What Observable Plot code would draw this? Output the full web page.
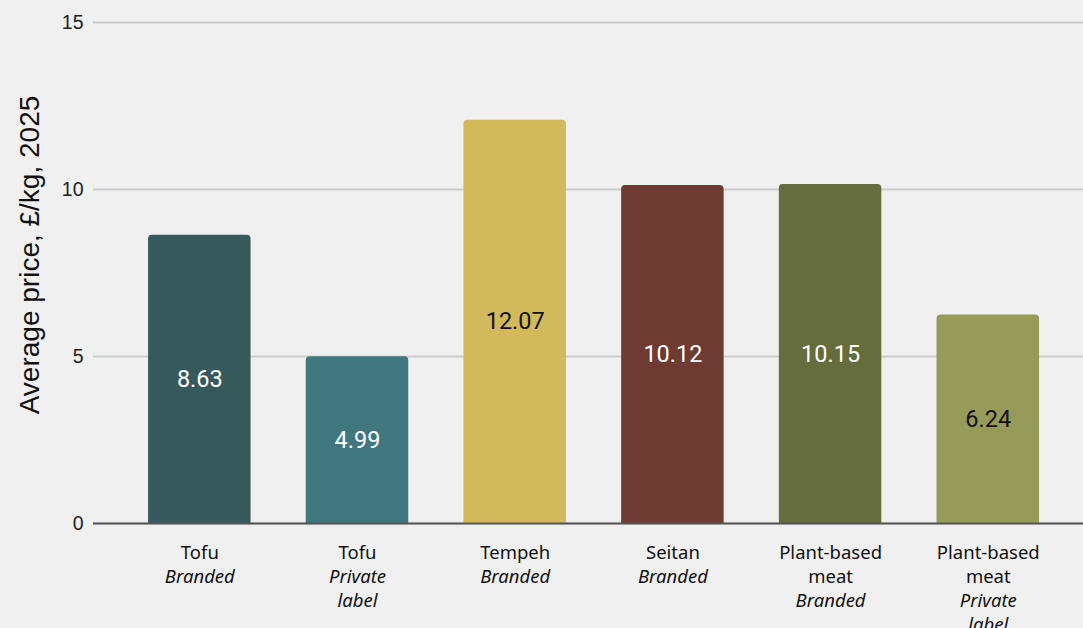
<!DOCTYPE html>
<html><head><meta charset="utf-8">
<script src="https://cdn.jsdelivr.net/npm/d3@7"></script>
<script src="https://cdn.jsdelivr.net/npm/@observablehq/plot@0.6"></script>
<style>body{margin:0;background:#f0f0f0;} svg{display:block}</style>
</head><body><div id="chart"></div>
<script>
const categories = ["Tofu", "Tofu", "Tempeh", "Seitan", "Plant-based\nmeat", "Plant-based\nmeat"];
const types = ["Branded", "Private\nlabel", "Branded", "Branded", "Branded", "Private\nlabel"];
const prices = [8.63, 4.99, 12.07, 10.12, 10.15, 6.24];
const yTicks = [0, 5, 10, 15];
const barColors = ["#36595c", "#41777f", "#d2b95a", "#6e3b33", "#666d3d", "#979b5a"];
const labelColors = ["#ffffff", "#ffffff", "#111111", "#ffffff", "#ffffff", "#111111"];
const yLabel = "Average price, £/kg, 2025";

const data = prices.map((v, i) => ({
  key: String(i),
  cat: categories[i],
  italic: "\n".repeat(categories[i].split("\n").length) + types[i],
  value: v,
  bar: barColors[i],
  lab: labelColors[i]
}));
const keys = data.map(d => d.key);
const labelFont = "'Noto Sans', 'Open Sans', sans-serif";

const chart = Plot.plot({
  width: 1083,
  height: 628,
  marginTop: 22,
  marginBottom: 105,
  marginLeft: 93,
  marginRight: 0,
  style: {background: "#f0f0f0", fontFamily: "'Liberation Sans', Arial, sans-serif", color: "#222"},
  x: {domain: keys, paddingInner: 0.35, paddingOuter: 0.314, align: 0.556, round: false, axis: null},
  y: {domain: [0, 15], axis: null},
  color: {type: "identity"},
  marks: [
    Plot.gridY(yTicks, {stroke: "#cccccc", strokeOpacity: 1, strokeWidth: 2}),
    Plot.axisY(yTicks, {tickSize: 0, tickPadding: 10, fontSize: 19.5, label: null}),
    Plot.barY(data, {x: "key", y1: -0.3, y2: "value", fill: "bar", rx: 4, clip: true}),
    Plot.ruleY([0], {stroke: "#555555", strokeWidth: 2}),
    Plot.text(data, {x: "key", y: d => d.value / 2, text: d => d.value.toFixed(2), fill: "lab", fontSize: 23.5, fontFamily: "Roboto, sans-serif"}),
    Plot.text(data, {x: "key", y: 0, text: "cat", lineAnchor: "top", dy: 18, fontSize: 18.5, lineHeight: 1.3, fill: "#111", fontFamily: labelFont}),
    Plot.text(data, {x: "key", y: 0, text: "italic", lineAnchor: "top", dy: 18, fontSize: 18.5, lineHeight: 1.3, fill: "#111", fontStyle: "italic", fontFamily: labelFont})
  ]
});
document.getElementById("chart").append(chart);
d3.select(chart).append("text")
  .attr("transform", "translate(39,255) rotate(-90)")
  .attr("text-anchor", "middle")
  .attr("font-size", 28)
  .attr("fill", "#111")
  .attr("font-family", "'Liberation Sans', Arial, sans-serif")
  .text(yLabel);
</script>
</body></html>
